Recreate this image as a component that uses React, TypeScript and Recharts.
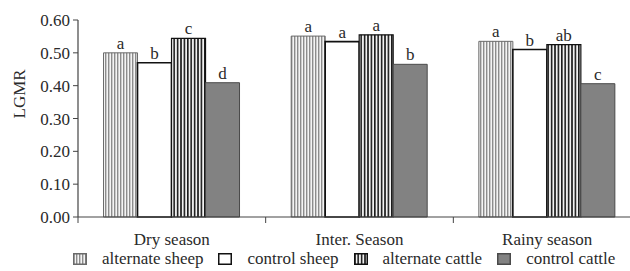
import { BarChart, Bar, XAxis, YAxis, LabelList, Legend } from 'recharts';

const seasons = ['Dry season', 'Inter. Season', 'Rainy season'];
const altSheep = [0.5, 0.551, 0.535];
const ctrlSheep = [0.47, 0.534, 0.51];
const altCattle = [0.544, 0.555, 0.525];
const ctrlCattle = [0.409, 0.465, 0.406];
const altSheepSig = ['a', 'a', 'a'];
const ctrlSheepSig = ['b', 'a', 'b'];
const altCattleSig = ['c', 'a', 'ab'];
const ctrlCattleSig = ['d', 'b', 'c'];
const yTicks = [0, 0.1, 0.2, 0.3, 0.4, 0.5, 0.6];

const data = seasons.map((season, i) => ({
  season,
  altSheep: altSheep[i],
  ctrlSheep: ctrlSheep[i],
  altCattle: altCattle[i],
  ctrlCattle: ctrlCattle[i],
  altSheepSig: altSheepSig[i],
  ctrlSheepSig: ctrlSheepSig[i],
  altCattleSig: altCattleSig[i],
  ctrlCattleSig: ctrlCattleSig[i],
}));

const FONT = 'Liberation Serif, DejaVu Serif, serif';
const TEXT = '#2a2a2a';
const AXIS = '#444';

const series = [
  { key: 'altSheep', name: 'alternate sheep', fill: 'url(#stripeLight)', stroke: '#6a6a6a', width: 1 },
  { key: 'ctrlSheep', name: 'control sheep', fill: '#ffffff', stroke: '#111', width: 1.6 },
  { key: 'altCattle', name: 'alternate cattle', fill: 'url(#stripeDark)', stroke: '#111', width: 1.2 },
  { key: 'ctrlCattle', name: 'control cattle', fill: '#828282', stroke: '#4a4a4a', width: 1 },
];

// eslint-disable-next-line @typescript-eslint/no-explicit-any
function SeasonTick(props: any) {
  const { x, y, payload } = props;
  const half = payload?.offset ?? 94;
  return (
    <g>
      <line x1={x - half} x2={x - half} y1={y - 8} y2={y - 2} stroke={AXIS} strokeWidth={1} />
      <text x={x} y={y + 20} textAnchor="middle" fill={TEXT} fontSize={17} style={{ fontFamily: FONT }}>
        {payload.value}
      </text>
    </g>
  );
}

function LegendContent() {
  return (
    <div
      style={{
        display: 'flex',
        alignItems: 'center',
        height: 24,
        paddingLeft: 73,
        fontFamily: FONT,
        fontSize: 17,
        color: TEXT,
        whiteSpace: 'nowrap',
      }}
    >
      {series.map((s) => (
        <div key={s.key} style={{ display: 'flex', alignItems: 'center', marginRight: 15 }}>
          <svg width={14} height={12} style={{ marginRight: 15 }}>
            <rect x={0.75} y={0.75} width={12.5} height={10.5} fill={s.fill} stroke={s.stroke} strokeWidth={1.5} />
          </svg>
          <span>{s.name}</span>
        </div>
      ))}
    </div>
  );
}

export default function App() {
  return (
    <div style={{ position: 'absolute', left: 0, top: 0, width: 630, height: 271, overflow: 'hidden', background: '#fff', fontFamily: FONT }}>
      <BarChart
        width={660}
        height={271}
        data={data}
        margin={{ top: 20, right: 19, left: 0, bottom: 0 }}
        barCategoryGap="13.6%"
        barGap={0}
        style={{ fontFamily: FONT }}
      >
        <defs>
          <pattern id="stripeLight" width={3} height={4} patternUnits="userSpaceOnUse">
            <rect width={3} height={4} fill="#f4f4f4" />
            <rect width={1.4} height={4} fill="#8c8c8c" />
          </pattern>
          <pattern id="stripeDark" width={3.4} height={4} patternUnits="userSpaceOnUse">
            <rect width={3.4} height={4} fill="#f2f2f2" />
            <rect width={1.6} height={4} fill="#1a1a1a" />
          </pattern>
        </defs>
        <XAxis
          dataKey="season"
          height={30}
          axisLine={{ stroke: AXIS, strokeWidth: 1.2 }}
          tickLine={false}
          tick={<SeasonTick />}
          interval={0}
        />
        <YAxis
          width={78}
          domain={[0, 0.6]}
          ticks={yTicks}
          tickFormatter={(v: number) => v.toFixed(2)}
          axisLine={{ stroke: AXIS, strokeWidth: 1.2 }}
          tickLine={{ stroke: AXIS }}
          tickSize={5}
          tickMargin={3}
          tick={{ fill: TEXT, fontSize: 17, style: { fontFamily: FONT } }}
          label={{ value: 'LGMR', angle: -90, position: 'insideLeft', offset: 19, fill: TEXT, fontSize: 17, style: { fontFamily: FONT } }}
        />
        <Legend verticalAlign="bottom" align="left" wrapperStyle={{ left: 0, width: 630 }} content={<LegendContent />} />
        {series.map((s) => (
          <Bar
            key={s.key}
            dataKey={s.key}
            name={s.name}
            fill={s.fill}
            stroke={s.stroke}
            strokeWidth={s.width}
            isAnimationActive={false}
          >
            <LabelList
              dataKey={`${s.key}Sig`}
              position="top"
              offset={4}
              fill={TEXT}
              fontSize={17}
              style={{ fontFamily: FONT }}
            />
          </Bar>
        ))}
      </BarChart>
    </div>
  );
}
